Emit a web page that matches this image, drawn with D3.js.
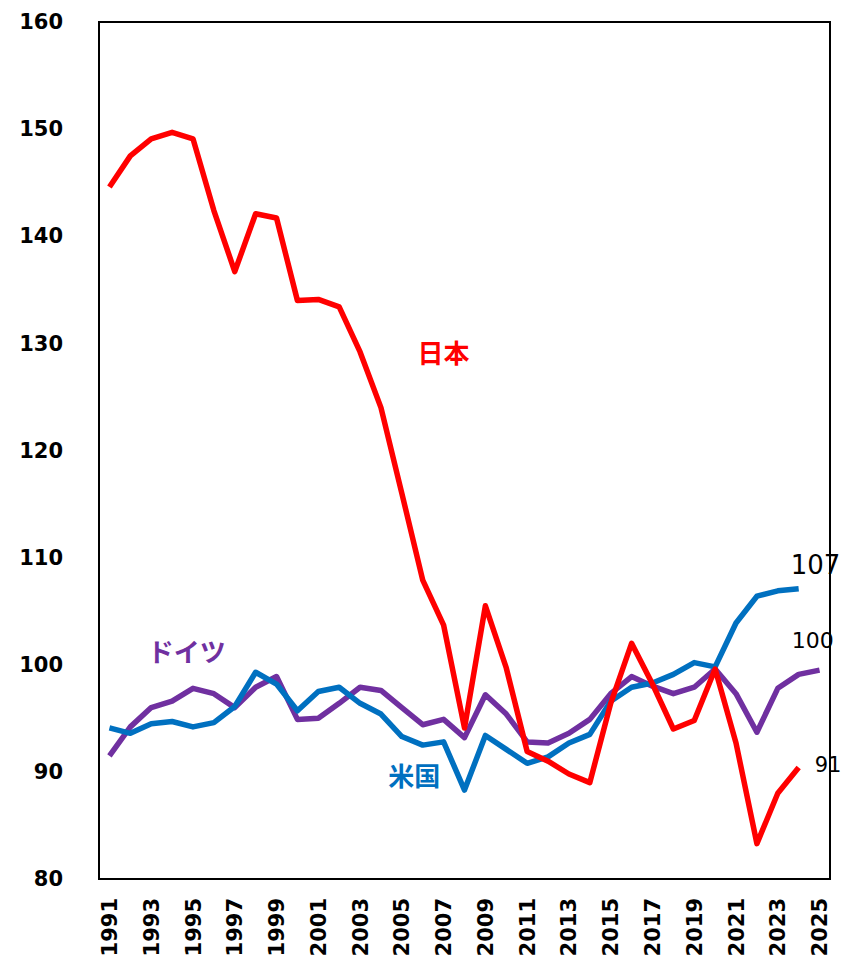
<!DOCTYPE html>
<html>
<head>
<meta charset="utf-8">
<script src="https://cdn.jsdelivr.net/npm/d3@7"></script>
<style>
  body { margin: 0; background: #fff; }
  svg { display: block; font-family: "DejaVu Sans", Verdana, sans-serif; }
</style>
</head>
<body>
<div class="chart"></div>
<script>
// years on the category axis
const years = d3.range(1991, 2026);
const yTicks = [80, 90, 100, 110, 120, 130, 140, 150, 160];

// 日本 (1991-2024)
const japan = [144.6, 147.5, 149.1, 149.7, 149.1, 142.4, 136.7, 142.1, 141.7, 134.0,
  134.1, 133.4, 129.2, 124.0, 116.0, 107.9, 103.7, 94.1, 105.5, 99.7,
  91.9, 91.0, 89.8, 89.0, 96.4, 102.0, 98.2, 94.0, 94.8, 99.6,
  92.7, 83.3, 88.0, 90.4];
// 米国 (1991-2024)
const usa = [94.1, 93.6, 94.5, 94.7, 94.2, 94.6, 96.1, 99.3, 98.2, 95.7,
  97.5, 97.9, 96.4, 95.4, 93.3, 92.5, 92.8, 88.3, 93.4, 92.1,
  90.8, 91.4, 92.7, 93.5, 96.6, 97.9, 98.3, 99.1, 100.2, 99.8,
  103.9, 106.4, 106.9, 107.1];
// ドイツ (1991-2025)
const germany = [91.5, 94.2, 96.0, 96.6, 97.8, 97.3, 96.0, 97.9, 98.9, 94.9,
  95.0, 96.4, 97.9, 97.6, 96.0, 94.4, 94.9, 93.2, 97.2, 95.4,
  92.8, 92.7, 93.6, 94.9, 97.3, 98.9, 98.0, 97.3, 97.9, 99.6,
  97.3, 93.7, 97.8, 99.1, 99.5];

const endLabels = ['107', '100', '91'];

const width = 845, height = 961;
const margin = {top: 22, right: 15, bottom: 82, left: 99};
const w = width - margin.left - margin.right;
const h = height - margin.top - margin.bottom;

const svg = d3.select('.chart').append('svg')
  .attr('width', width)
  .attr('height', height);

const g = svg.append('g')
  .attr('transform', `translate(${margin.left},${margin.top})`);

const x = d3.scaleBand()
  .domain(years)
  .range([0, w]);

const y = d3.scaleLinear()
  .domain([80, 160])
  .range([h, 0]);

// centre of a (possibly fractional) year on the band scale
const xc = yr => x(years[0]) + x.bandwidth() / 2 + (yr - years[0]) * x.step();

// frame
g.append('rect')
  .attr('width', w)
  .attr('height', h)
  .attr('fill', 'none')
  .attr('stroke', '#000')
  .attr('stroke-width', 2);

// y axis labels
g.append('g')
  .call(d3.axisLeft(y).tickValues(yTicks).tickSize(0).tickPadding(36))
  .call(a => a.select('.domain').remove())
  .selectAll('text')
    .attr('font-size', 21)
    .attr('font-weight', 'bold')
    .attr('font-family', '"DejaVu Sans", Verdana, sans-serif')
    .attr('fill', '#000');

// x axis labels, every other year
g.append('g')
  .attr('transform', `translate(0,${h})`)
  .call(d3.axisBottom(x).tickValues(years.filter(d => (d - 1991) % 2 === 0)).tickSize(0))
  .call(a => a.select('.domain').remove())
  .selectAll('text')
    .attr('font-size', 21)
    .attr('font-weight', 'bold')
    .attr('font-family', '"DejaVu Sans", Verdana, sans-serif')
    .attr('fill', '#000')
    .attr('transform', 'rotate(-90)')
    .attr('text-anchor', 'end')
    .attr('x', -19)
    .attr('y', 0)
    .attr('dy', '0.36em');

const line = d3.line()
  .x((d, i) => xc(years[i]))
  .y(d => y(d));

const series = [
  {name: 'ドイツ', values: germany, color: '#7030A0'},
  {name: '米国', values: usa, color: '#0070C0'},
  {name: '日本', values: japan, color: '#FF0000'}
];

g.selectAll('.series')
  .data(series)
  .enter().append('path')
    .attr('class', 'series')
    .attr('d', d => line(d.values))
    .attr('fill', 'none')
    .attr('stroke', d => d.color)
    .attr('stroke-width', 5.5)
    .attr('stroke-linejoin', 'round');

// series names
const names = [
  {text: '日本', color: '#FF0000', year: 2007, v: 129.0},
  {text: 'ドイツ', color: '#7030A0', year: 1994.7, v: 101.1},
  {text: '米国', color: '#0070C0', year: 2005.6, v: 89.6}
];
g.selectAll('.name')
  .data(names)
  .enter().append('text')
    .attr('class', 'name')
    .attr('x', d => xc(d.year))
    .attr('y', d => y(d.v))
    .attr('dy', '0.36em')
    .attr('text-anchor', 'middle')
    .attr('font-size', 26)
    .attr('font-weight', 'bold')
    .attr('font-family', '"Noto Sans CJK JP", sans-serif')
    .attr('fill', d => d.color)
    .text(d => d.text);

// end value labels
const ends = [
  {text: endLabels[0], v: 109.3, size: 26, dx: -8},
  {text: endLabels[1], v: 102.3, size: 22, dx: -7},
  {text: endLabels[2], v: 90.7, size: 21, dx: 16}
];
g.selectAll('.end')
  .data(ends)
  .enter().append('text')
    .attr('class', 'end')
    .attr('x', d => xc(2024) + d.dx)
    .attr('y', d => y(d.v))
    .attr('dy', '0.35em')
    .attr('font-size', d => d.size)
    .attr('fill', '#000')
    .text(d => d.text);
</script>
</body>
</html>
